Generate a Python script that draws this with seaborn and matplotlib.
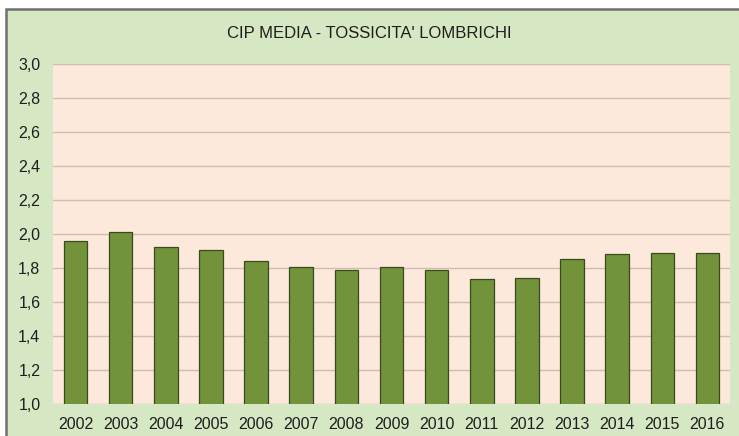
import matplotlib
matplotlib.use("Agg")
import matplotlib.pyplot as plt
import seaborn as sns
import pandas as pd
from matplotlib.patches import Rectangle
from matplotlib.ticker import FixedLocator

years = ["2002", "2003", "2004", "2005", "2006", "2007", "2008", "2009",
         "2010", "2011", "2012", "2013", "2014", "2015", "2016"]
values = [1.96, 2.012, 1.927, 1.907, 1.843, 1.807, 1.788, 1.807,
          1.788, 1.738, 1.744, 1.853, 1.884, 1.888, 1.892]
yticks = [1.0, 1.2, 1.4, 1.6, 1.8, 2.0, 2.2, 2.4, 2.6, 2.8, 3.0]
title = "CIP MEDIA - TOSSICITA' LOMBRICHI"

sns.set_style("white")
plt.rcParams['font.family'] = ['Liberation Sans', 'DejaVu Sans']

W, H = 739, 436
fig = plt.figure(figsize=(W / 100, H / 100), dpi=100)
fig.patch.set_facecolor("white")
bg = Rectangle((6 / W, -0.02), (W + 10) / W, (H - 9) / H + 0.02,
               transform=fig.transFigure, facecolor="#d6e7c4",
               edgecolor="#707070", linewidth=1.8, zorder=-10)
fig.patches.append(bg)

ax = fig.add_axes([53 / W, (H - 404) / H, (730 - 53) / W, (404 - 64.5) / H])
ax.set_zorder(1)
ax.set_facecolor("#fde8dc")

df = pd.DataFrame({"year": years, "value": values})
sns.barplot(data=df, x="year", y="value", ax=ax, color="#72933a",
            saturation=1, width=0.52, edgecolor="#3a4a20", linewidth=0.9,
            zorder=3)

ax.set_ylim(1.0, 3.0)
ax.yaxis.set_major_locator(FixedLocator(yticks))
ax.set_yticklabels([f"{t:.1f}".replace(".", ",") for t in yticks])
ax.grid(axis="y", color="#d2bcae", linewidth=1.0, zorder=0)
ax.set_axisbelow(True)
ax.set_xlabel("")
ax.set_ylabel("")
for s in ax.spines.values():
    s.set_visible(False)
ax.tick_params(axis="both", length=0, labelsize=11.5, colors="#1e1e1e")
ax.tick_params(axis="y", pad=9)
ax.tick_params(axis="x", pad=9)

fig.text(0.5, (H - 34) / H, title, ha="center", va="center",
         fontsize=12, color="#1e1e1e")

fig.savefig("out.png", dpi=100)
